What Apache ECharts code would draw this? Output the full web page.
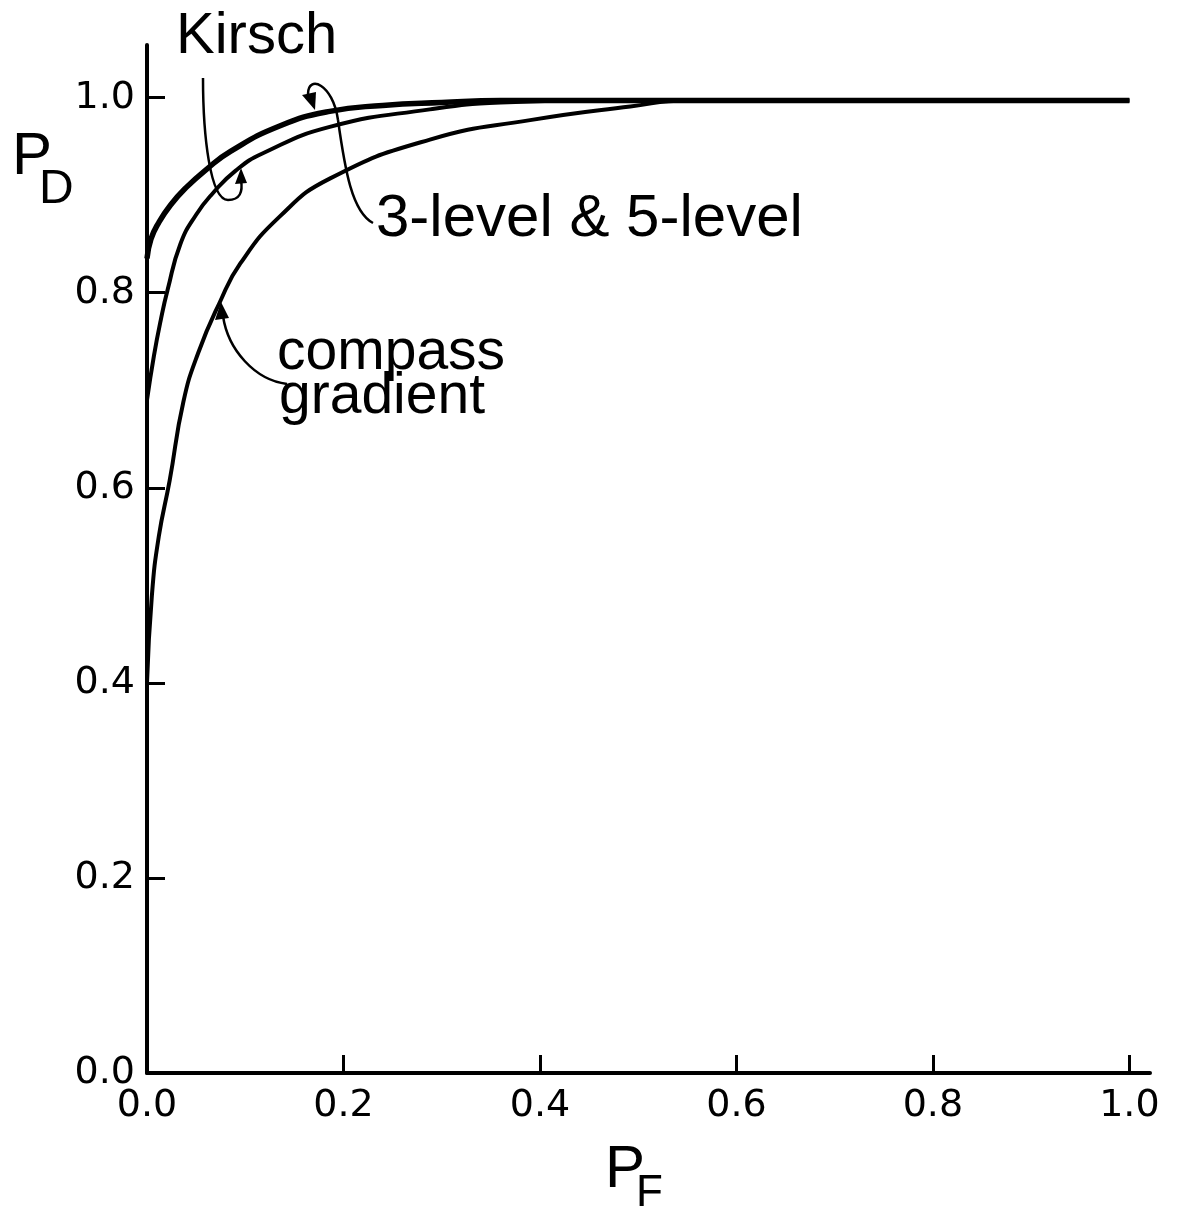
<!DOCTYPE html>
<html>
<head>
<meta charset="utf-8">
<script src="https://cdn.jsdelivr.net/npm/echarts@6/dist/echarts.min.js"></script>
<style>
html,body{margin:0;padding:0;background:#fff;}
#c{width:1180px;height:1208px;}
</style>
</head>
<body>
<div id="c"></div>
<script>
// ---- data (PF, PD) ----
const xTickValues = [0, 0.2, 0.4, 0.6, 0.8, 1.0];
const yTickValues = [0, 0.2, 0.4, 0.6, 0.8, 1.0];

const levelPF = [0, 0.004, 0.012, 0.024, 0.040, 0.060, 0.085, 0.135, 0.186, 0.240, 0.300, 0.36, 0.45, 0.6, 0.8, 1.0];
const levelPD = [0.835, 0.855, 0.872, 0.890, 0.908, 0.926, 0.945, 0.971, 0.986, 0.992, 0.995, 0.997, 0.997, 0.997, 0.997, 0.997];

const kirschPF = [0, 0.007, 0.014, 0.021, 0.034, 0.050, 0.067, 0.090, 0.118, 0.186, 0.288, 0.36, 0.45, 0.6, 0.8, 1.0];
const kirschPD = [0.69, 0.735, 0.772, 0.803, 0.850, 0.880, 0.902, 0.925, 0.943, 0.970, 0.988, 0.995, 0.997, 0.997, 0.997, 0.997];

const compassPF = [0, 0.005, 0.012, 0.023, 0.037, 0.052, 0.074, 0.095, 0.135, 0.186, 0.288, 0.390, 0.492, 0.55, 0.65, 0.8, 1.0];
const compassPD = [0.40, 0.49, 0.55, 0.607, 0.688, 0.738, 0.790, 0.830, 0.878, 0.917, 0.957, 0.977, 0.991, 0.997, 0.997, 0.997, 0.997];

function pairs(xs, ys){ return xs.map((x,i)=>[x, ys[i]]); }

const chart = echarts.init(document.getElementById('c'), null, {renderer:'canvas'});
const numFont = 'DejaVu Sans';

const option = {
  backgroundColor: '#fff',
  animation: false,
  grid: {left: 147, right: 30, top: 45, bottom: 135, containLabel: false},
  xAxis: {
    type: 'value', min: 0, max: 1.021, interval: 0.2,
    axisLine: {show: true, onZero: false, lineStyle: {color: '#000', width: 4}},
    axisTick: {show: true, inside: true, length: 18, customValues: xTickValues.slice(1), lineStyle: {color: '#000', width: 3}},
    axisLabel: {customValues: xTickValues, formatter: v => Number(v).toFixed(1), fontFamily: numFont, fontSize: 38, color: '#000', margin: 14},
    splitLine: {show: false}
  },
  yAxis: {
    type: 'value', min: 0, max: 1.054, interval: 0.2,
    axisLine: {show: true, onZero: false, lineStyle: {color: '#000', width: 4}},
    axisTick: {show: true, inside: true, length: 18, customValues: yTickValues.slice(1), lineStyle: {color: '#000', width: 3}},
    axisLabel: {customValues: yTickValues, formatter: v => Number(v).toFixed(1), fontFamily: numFont, fontSize: 38, color: '#000', margin: 12},
    splitLine: {show: false}
  },
  series: [
    {name: '3-level & 5-level', type: 'line', data: pairs(levelPF, levelPD), showSymbol: false, smooth: 0.5, lineStyle: {color: '#000', width: 5.5}},
    {name: 'Kirsch', type: 'line', data: pairs(kirschPF, kirschPD), showSymbol: false, smooth: 0.5, lineStyle: {color: '#000', width: 4}},
    {name: 'compass gradient', type: 'line', data: pairs(compassPF, compassPD), showSymbol: false, smooth: 0.5, lineStyle: {color: '#000', width: 4}}
  ],
  graphic: [
    // axis names
    {type: 'text', style: {text: 'P', x: 12, y: 157, font: '60px "Liberation Sans"', fill: '#000', verticalAlign: 'middle'}},
    {type: 'text', style: {text: 'D', x: 39, y: 190, font: '48px "Liberation Sans"', fill: '#000', verticalAlign: 'middle'}},
    {type: 'text', style: {text: 'P', x: 605, y: 1170, font: '60px "Liberation Sans"', fill: '#000', verticalAlign: 'middle'}},
    {type: 'text', style: {text: 'F', x: 636, y: 1194, font: '44px "Liberation Sans"', fill: '#000', verticalAlign: 'middle'}},
    // annotations
    {type: 'text', style: {text: 'Kirsch', x: 176, y: 37, font: '58px "Liberation Sans"', fill: '#000', verticalAlign: 'middle'}},
    {type: 'text', style: {text: '3-level & 5-level', x: 376, y: 219, font: '60px "Liberation Sans"', fill: '#000', verticalAlign: 'middle'}},
    {type: 'text', style: {text: 'compass', x: 277, y: 353, font: '57px "Liberation Sans"', fill: '#000', verticalAlign: 'middle'}},
    {type: 'text', style: {text: 'gradient', x: 279, y: 397, font: '57px "Liberation Sans"', fill: '#000', verticalAlign: 'middle'}},
    // Kirsch leader
    {type: 'bezierCurve', shape: {x1: 203, y1: 78, cpx1: 203, cpy1: 135, cpx2: 210, cpy2: 200, x2: 228, y2: 200}, style: {stroke: '#000', lineWidth: 2.5, fill: null}},
    {type: 'bezierCurve', shape: {x1: 228, y1: 200, cpx1: 240, cpy1: 200, cpx2: 243, cpy2: 192, x2: 241, y2: 180}, style: {stroke: '#000', lineWidth: 2.5, fill: null}},
    {type: 'polygon', shape: {points: [[241, 168], [235, 184], [247, 183]]}, style: {fill: '#000'}},
    // 3-level leader
    {type: 'bezierCurve', shape: {x1: 373, y1: 223, cpx1: 352, cpy1: 212, cpx2: 345, cpy2: 170, x2: 338, y2: 120}, style: {stroke: '#000', lineWidth: 2.5, fill: null}},
    {type: 'bezierCurve', shape: {x1: 338, y1: 120, cpx1: 333, cpy1: 84, cpx2: 308, cpy2: 74, x2: 308, y2: 94}, style: {stroke: '#000', lineWidth: 2.5, fill: null}},
    {type: 'polygon', shape: {points: [[315, 110], [302, 95], [316, 92]]}, style: {fill: '#000'}},
    // compass leader
    {type: 'bezierCurve', shape: {x1: 287, y1: 384, cpx1: 255, cpy1: 380, cpx2: 228, cpy2: 350, x2: 223, y2: 316}, style: {stroke: '#000', lineWidth: 2.5, fill: null}},
    {type: 'polygon', shape: {points: [[221, 302], [215, 320], [229, 318]]}, style: {fill: '#000'}}
  ]
};
chart.setOption(option);
</script>
</body>
</html>
